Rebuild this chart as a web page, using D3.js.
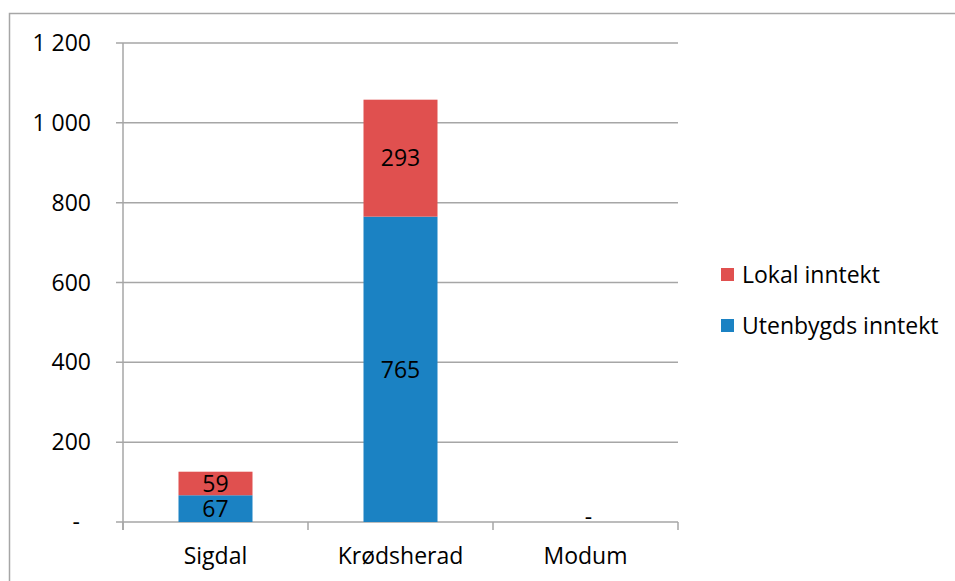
<!DOCTYPE html>
<html><head><meta charset="utf-8">
<script src="https://cdn.jsdelivr.net/npm/d3@7"></script>
<style>body{margin:0;background:#fff}svg{display:block}text{font-family:"Open Sans","Noto Sans",sans-serif}</style>
</head><body>
<svg id="c" width="955" height="581"></svg>
<script>
const categories = ["Sigdal", "Krødsherad", "Modum"];
const utenbygds = [67, 765, 0];
const lokal = [59, 293, 0];
const seriesNames = ["Lokal inntekt", "Utenbygds inntekt"];
const seriesColors = ["#E0504F", "#1B82C3"];
const yTicks = [0, 200, 400, 600, 800, 1000, 1200];

const FS = 23;
const svg = d3.select("#c");
// outer frame
svg.append("path").attr("d","M9.5,581 V13.5 H955").attr("fill","none").attr("stroke","#a6a6a6").attr("stroke-width",1.5);

const L = 123, R = 678, T = 43, B = 522;
const x = d3.scaleBand().domain(categories).range([L, R]).paddingInner(0.6).paddingOuter(0.3);
const y = d3.scaleLinear().domain([0, 1200]).range([B, T]);
const grid = "#a6a6a6";
const fmt = v => v === 0 ? "-" : d3.format(",")(v).replace(/,/g, " ");

// gridlines
svg.append("g").selectAll("line").data(yTicks).join("line")
  .attr("x1", L - 7).attr("x2", R).attr("y1", d => y(d)).attr("y2", d => y(d))
  .attr("stroke", grid).attr("stroke-width", 1.5);
// y axis line
svg.append("line").attr("x1", L).attr("x2", L).attr("y1", T).attr("y2", B + 8).attr("stroke", grid).attr("stroke-width", 1.5);
// category ticks
const bounds = [L].concat(categories.map((c, i) => L + (R - L) / categories.length * (i + 1)));
svg.append("g").selectAll("line").data(bounds).join("line")
  .attr("x1", d => d).attr("x2", d => d).attr("y1", B).attr("y2", B + 8)
  .attr("stroke", grid).attr("stroke-width", 1.5);

// y labels
svg.append("g").selectAll("text").data(yTicks).join("text")
  .attr("x", d => d === 0 ? 80 : 91).attr("y", d => y(d)).attr("dy", "0.35em")
  .attr("text-anchor", "end").attr("font-size", FS).attr("fill", "#000").text(fmt);

// x labels
svg.append("g").selectAll("text").data(categories).join("text")
  .attr("x", d => x(d) + x.bandwidth() / 2).attr("y", 556).attr("dy", "0.35em")
  .attr("text-anchor", "middle").attr("font-size", FS).attr("fill", "#000").text(d => d);

// stacked bars
const rows = categories.map((c, i) => ({cat: c, ut: utenbygds[i], lok: lokal[i]}));
const stack = d3.stack().keys(["ut", "lok"])(rows);
const colorFor = {ut: seriesColors[1], lok: seriesColors[0]};
stack.forEach(layer => {
  const g = svg.append("g");
  g.selectAll("rect").data(layer).join("rect")
    .attr("x", d => x(d.data.cat)).attr("width", x.bandwidth())
    .attr("y", d => y(d[1])).attr("height", d => y(d[0]) - y(d[1]))
    .attr("fill", colorFor[layer.key]);
  g.selectAll("text").data(layer.filter(d => d[1] - d[0] > 0)).join("text")
    .attr("x", d => x(d.data.cat) + x.bandwidth() / 2)
    .attr("y", d => (y(d[0]) + y(d[1])) / 2).attr("dy", "0.36em")
    .attr("text-anchor", "middle").attr("font-size", FS).attr("fill", "#000")
    .text(d => d[1] - d[0]);
});
// zero label for Modum
rows.filter(r => r.ut + r.lok === 0).forEach(r => {
  svg.append("text").attr("x", x(r.cat) + x.bandwidth() / 2 + 3).attr("y", y(0)).attr("dy", "0.15em")
    .attr("text-anchor", "middle").attr("font-size", FS).attr("fill", "#000").text("-");
});

// legend
const lg = svg.append("g");
seriesNames.forEach((n, i) => {
  const yy = 275 + i * 51;
  lg.append("rect").attr("x", 721).attr("y", yy - 7).attr("width", 13).attr("height", 13).attr("fill", seriesColors[i]);
  lg.append("text").attr("x", 742).attr("y", yy).attr("dy", "0.35em").attr("font-size", FS).attr("fill", "#000").text(n);
});
</script>
</body></html>
